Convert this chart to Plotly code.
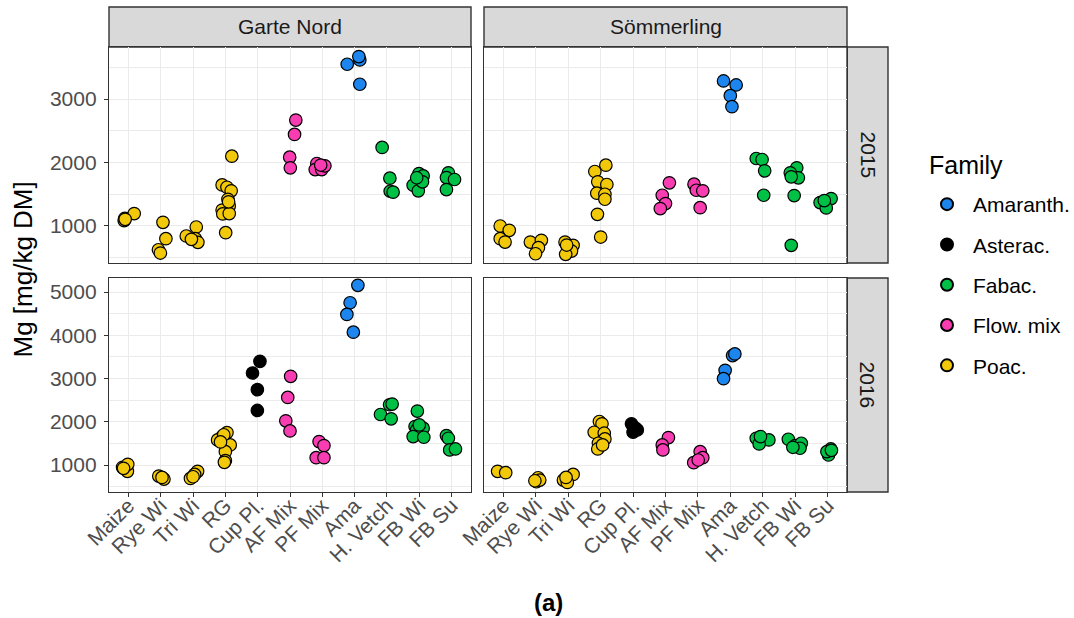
import plotly.graph_objects as go

# ---- data -------------------------------------------------------------
CATEGORIES = ["Maize", "Rye Wi", "Tri Wi", "RG", "Cup Pl.", "AF Mix",
              "PF Mix", "Ama", "H. Vetch", "FB Wi", "FB Su"]
FAMILY_OF = {"Maize": "Poac.", "Rye Wi": "Poac.", "Tri Wi": "Poac.",
             "RG": "Poac.", "Cup Pl.": "Asterac.", "AF Mix": "Flow. mix",
             "PF Mix": "Flow. mix", "Ama": "Amaranth.", "H. Vetch": "Fabac.",
             "FB Wi": "Fabac.", "FB Su": "Fabac."}
FAMILIES = ["Amaranth.", "Asterac.", "Fabac.", "Flow. mix", "Poac."]
FAMILY_COLORS = ["#1C86EE", "#000000", "#00C146", "#F83CB2", "#F2C80A"]
SITES = ["Garte Nord", "Sömmerling"]
YEARS = ["2015", "2016"]

# Mg [mg/kg DM] per crop, and horizontal jitter of each sample
gn15_mg = {"Maize": [1085, 1120, 1195, 1105], "Rye Wi": [1058, 800, 626, 574],
           "Tri Wi": [984, 842, 800, 742, 790], "RG": [2100, 1647, 1610, 1553, 1420, 1316, 1250, 1190, 1195, 895, 1380],
           "AF Mix": [2668, 2442, 2084, 1916], "PF Mix": [1984, 1889, 1889, 1947, 1960],
           "Ama": [3547, 3616, 3668, 3232], "H. Vetch": [2237, 1753, 1547, 1532],
           "FB Wi": [1826, 1789, 1642, 1553, 1695, 1760], "FB Su": [1837, 1763, 1732, 1574]}
gn15_jit = {"Maize": [-0.13, -0.11, 0.18, -0.10], "Rye Wi": [0.07, 0.16, -0.07, -0.01],
            "Tri Wi": [0.10, -0.21, 0.07, 0.15, -0.05], "RG": [0.20, -0.10, 0.05, 0.18, 0.08, 0.12, -0.10, -0.08, 0.12, 0.01, 0.10],
            "AF Mix": [0.18, 0.14, -0.01, 0.01], "PF Mix": [-0.17, -0.22, -0.02, 0.08, -0.05],
            "Ama": [-0.23, 0.16, 0.13, 0.16], "H. Vetch": [-0.15, 0.09, 0.10, 0.19],
            "FB Wi": [-0.01, 0.12, -0.19, -0.03, 0.10, -0.08], "FB Su": [-0.10, -0.16, 0.09, -0.16]}

so15_mg = {"Maize": [1000, 932, 800, 747], "Rye Wi": [747, 774, 658, 563],
           "Tri Wi": [747, 695, 605, 553, 700], "RG": [1958, 1858, 1695, 1653, 1516, 1500, 1421, 1184, 826],
           "AF Mix": [1679, 1484, 1353, 1274], "PF Mix": [1658, 1563, 1553, 1289],
           "Ama": [3284, 3221, 3053, 2879], "H. Vetch": [2063, 2047, 1868, 1484],
           "FB Wi": [1916, 1837, 1758, 1774, 1479, 695], "FB Su": [1432, 1368, 1284, 1400]}
so15_jit = {"Maize": [-0.10, 0.18, -0.10, 0.05], "Rye Wi": [-0.17, 0.17, 0.08, -0.01],
            "Tri Wi": [-0.10, 0.15, 0.10, -0.08, -0.05], "RG": [0.16, -0.18, -0.09, 0.19, -0.12, 0.13, 0.13, -0.10, 0.0],
            "AF Mix": [0.12, -0.10, 0.0, -0.16], "PF Mix": [-0.12, -0.05, 0.15, 0.07],
            "Ama": [-0.21, 0.18, 0.0, 0.05], "H. Vetch": [-0.20, -0.02, 0.06, 0.03],
            "FB Wi": [0.05, -0.15, 0.10, -0.12, -0.03, -0.12], "FB Su": [0.11, -0.23, -0.04, -0.10]}

gn16_mg = {"Maize": [946, 853, 1015, 923], "Rye Wi": [745, 675, 714],
           "Tri Wi": [690, 853, 783, 729], "RG": [1658, 1750, 1580, 1464, 1309, 1100, 1062, 1700, 1534],
           "Cup Pl.": [3398, 3128, 2741, 2261], "AF Mix": [3050, 2563, 2021, 1789],
           "PF Mix": [1542, 1449, 1170, 1170], "Ama": [5155, 4752, 4482, 4072],
           "H. Vetch": [2168, 2393, 2408, 2068], "FB Wi": [2246, 1890, 1851, 1812, 1658, 1642, 1928],
           "FB Su": [1681, 1619, 1348, 1371]}
gn16_jit = {"Maize": [-0.18, -0.03, -0.02, -0.15], "Rye Wi": [-0.06, 0.10, 0.04],
            "Tri Wi": [-0.08, 0.14, 0.05, 0.0], "RG": [-0.10, 0.05, -0.24, 0.15, 0.0, 0.0, -0.03, -0.05, -0.15],
            "Cup Pl.": [0.07, -0.16, -0.01, -0.01], "AF Mix": [0.02, -0.07, -0.13, 0.0],
            "PF Mix": [-0.10, 0.05, -0.19, 0.05], "Ama": [0.10, -0.14, -0.24, -0.04],
            "H. Vetch": [-0.20, 0.08, 0.16, 0.13], "FB Wi": [-0.06, -0.13, 0.12, -0.08, -0.19, 0.14, 0.0],
            "FB Su": [-0.16, -0.10, -0.06, 0.12]}

so16_mg = {"Maize": [853, 822], "Rye Wi": [706, 613, 652, 636],
           "Tri Wi": [652, 783, 598, 714], "RG": [2006, 1952, 1758, 1735, 1603, 1503, 1371, 1464],
           "Cup Pl.": [1952, 1851, 1758, 1812], "AF Mix": [1634, 1464, 1348],
           "PF Mix": [1309, 1170, 1054, 1116], "Ama": [3530, 3569, 3190, 2996],
           "H. Vetch": [1619, 1580, 1487, 1658], "FB Wi": [1596, 1449, 1503, 1387, 1410],
           "FB Su": [1371, 1232, 1309, 1340]}
so16_jit = {"Maize": [-0.18, 0.07], "Rye Wi": [0.07, 0.02, 0.12, -0.03],
            "Tri Wi": [-0.15, 0.15, -0.03, -0.07], "RG": [-0.04, 0.04, -0.20, 0.11, 0.13, -0.07, -0.09, 0.06],
            "Cup Pl.": [-0.05, 0.07, 0.0, 0.13], "AF Mix": [0.09, -0.10, -0.08],
            "PF Mix": [0.07, 0.15, -0.13, 0.01], "Ama": [0.07, 0.14, -0.16, -0.21],
            "H. Vetch": [-0.20, 0.19, -0.11, -0.07], "FB Wi": [-0.21, 0.0, 0.19, 0.15, -0.07],
            "FB Su": [0.10, 0.03, -0.02, 0.12]}

Y_BREAKS = {"2015": [1000, 2000, 3000], "2016": [1000, 2000, 3000, 4000, 5000]}

# ---- layout geometry (pixels of the 1074 x 618 page) -------------------
W, H = 1074, 618
COLS = [(109, 471), (484, 847)]          # panel columns
ROWS = [(47, 263), (278, 492)]           # panel rows (top, bottom)
STRIP_TOP = (7, 47)
STRIP_RIGHT = (847, 888)
Y_RANGES = {"2015": [417, 3819], "2016": [376, 5324]}

INK = "#333333"
GRID = "#EBEBEB"
TICK_TXT = "#4D4D4D"
FONT = "Liberation Sans"
SMALL = 21     # tick labels, strip and legend labels
LARGE = 25     # axis and legend titles

panels = [("Garte Nord", "2015", gn15_mg, gn15_jit),
          ("Sömmerling", "2015", so15_mg, so15_jit),
          ("Garte Nord", "2016", gn16_mg, gn16_jit),
          ("Sömmerling", "2016", so16_mg, so16_jit)]

fig = go.Figure()
legend_done = set()

for k, (site, year, mg, jit) in enumerate(panels):
    suffix = "" if k == 0 else str(k + 1)
    for fam, col in zip(FAMILIES, FAMILY_COLORS):
        xs, ys = [], []
        for ci, cat in enumerate(CATEGORIES):
            if FAMILY_OF[cat] != fam or cat not in mg:
                continue
            xs += [ci + 1 + j for j in jit[cat]]
            ys += mg[cat]
        if not xs:
            continue
        fig.add_trace(go.Scatter(
            x=xs, y=ys, mode="markers", name=fam, legendgroup=fam,
            legendrank=FAMILIES.index(fam) + 1,
            showlegend=fam not in legend_done,
            marker=dict(size=12.5, color=col, line=dict(color="black", width=1.2)),
            xaxis="x" + suffix, yaxis="y" + suffix))
        legend_done.add(fam)

layout = dict(width=W, height=H, margin=dict(l=0, r=0, t=0, b=0, autoexpand=False),
              paper_bgcolor="white", plot_bgcolor="white",
              font=dict(family=FONT, color=TICK_TXT),
              shapes=[], annotations=[])

for k, (site, year, mg, jit) in enumerate(panels):
    c, r = k % 2, k // 2
    suffix = "" if k == 0 else str(k + 1)
    x0, x1 = COLS[c]
    top, bot = ROWS[r]
    xa = dict(domain=[x0 / W, x1 / W], range=[0.4, 11.6], anchor="y" + suffix,
              automargin=False,
              tickmode="array", tickvals=list(range(1, 12)), ticktext=CATEGORIES,
              showgrid=True, gridcolor=GRID, gridwidth=1.1, zeroline=False,
              showline=True, mirror=True, linecolor=INK, linewidth=1.4,
              ticks="outside" if r == 1 else "", ticklen=4, tickwidth=1.1, tickcolor=INK,
              showticklabels=(r == 1), tickangle=-45, ticklabelstandoff=-12,
              tickfont=dict(size=SMALL, color=TICK_TXT, family=FONT))
    ya = dict(domain=[1 - bot / H, 1 - top / H], range=Y_RANGES[year], anchor="x" + suffix,
              automargin=False,
              tickmode="array", tickvals=Y_BREAKS[year],
              showgrid=True, gridcolor=GRID, gridwidth=1.1, zeroline=False,
              minor=dict(dtick=500, tick0=0, showgrid=True, gridcolor=GRID, gridwidth=0.6, ticks=""),
              showline=True, mirror=True, linecolor=INK, linewidth=1.4,
              ticks="outside" if c == 0 else "", ticklen=4, tickwidth=1.1, tickcolor=INK,
              showticklabels=(c == 0), ticklabelstandoff=3,
              tickfont=dict(size=SMALL, color=TICK_TXT, family=FONT))
    layout["xaxis" + suffix] = xa
    layout["yaxis" + suffix] = ya

# facet strips
for c, site in enumerate(SITES):
    x0, x1 = COLS[c]
    layout["shapes"].append(dict(type="rect", xref="paper", yref="paper",
                                 x0=x0 / W, x1=x1 / W, y0=1 - STRIP_TOP[1] / H, y1=1 - STRIP_TOP[0] / H,
                                 fillcolor="#D9D9D9", line=dict(color=INK, width=1.4), layer="below"))
    layout["annotations"].append(dict(text=site, xref="paper", yref="paper",
                                      x=(x0 + x1) / 2 / W, y=1 - sum(STRIP_TOP) / 2 / H,
                                      showarrow=False, xanchor="center", yanchor="middle",
                                      font=dict(size=SMALL, color="#1A1A1A", family=FONT)))
for r, year in enumerate(YEARS):
    top, bot = ROWS[r]
    layout["shapes"].append(dict(type="rect", xref="paper", yref="paper",
                                 x0=STRIP_RIGHT[0] / W, x1=STRIP_RIGHT[1] / W, y0=1 - bot / H, y1=1 - top / H,
                                 fillcolor="#D9D9D9", line=dict(color=INK, width=1.4), layer="below"))
    layout["annotations"].append(dict(text=year, xref="paper", yref="paper",
                                      x=sum(STRIP_RIGHT) / 2 / W, y=1 - (top + bot) / 2 / H,
                                      showarrow=False, textangle=90, xanchor="center", yanchor="middle",
                                      font=dict(size=SMALL, color="#1A1A1A", family=FONT)))

# axis title, legend title and caption
layout["annotations"].append(dict(text="Mg [mg/kg DM]", xref="paper", yref="paper",
                                  x=22 / W, y=1 - (ROWS[0][0] + ROWS[1][1]) / 2 / H,
                                  showarrow=False, textangle=-90, xanchor="center", yanchor="middle",
                                  font=dict(size=26, color="black", family=FONT)))
layout["annotations"].append(dict(text="Family", xref="paper", yref="paper",
                                  x=927 / W, y=1 - 165 / H, showarrow=False,
                                  xanchor="left", yanchor="middle",
                                  font=dict(size=LARGE, color="black", family=FONT)))
layout["annotations"].append(dict(text="<b>(a)</b>", xref="paper", yref="paper",
                                  x=548 / W, y=1 - 602 / H, showarrow=False,
                                  xanchor="center", yanchor="middle",
                                  font=dict(size=24, color="black",
                                            family="Liberation Sans Narrow, Liberation Sans")))

layout["legend"] = dict(x=921 / W, y=1 - 184 / H, xanchor="left", yanchor="top",
                        font=dict(size=SMALL, color="black", family=FONT),
                        tracegroupgap=10, itemwidth=42,
                        bgcolor="rgba(0,0,0,0)", itemsizing="constant")

fig.update_layout(**layout)
fig.write_html("out.html")
